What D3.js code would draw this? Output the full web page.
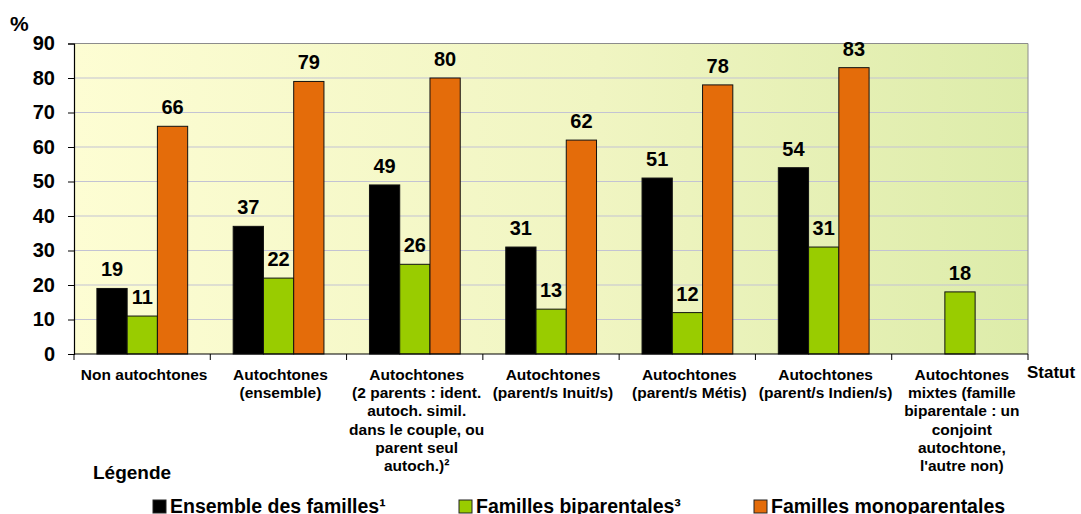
<!DOCTYPE html>
<html>
<head>
<meta charset="utf-8">
<script src="https://cdn.jsdelivr.net/npm/d3@7"></script>
<style>
  body { margin: 0; background: #fff; }
  text { font-family: Arial, "Liberation Sans", sans-serif; font-weight: bold; fill: #000; }
</style>
</head>
<body>
<svg width="1081" height="514"></svg>
<script>
const categories = [
    ['Non autochtones'],
    ['Autochtones', '(ensemble)'],
    ['Autochtones', '(2 parents : ident.', 'autoch. simil.', 'dans le  couple, ou', 'parent seul', 'autoch.)²'],
    ['Autochtones', '(parent/s Inuit/s)'],
    ['Autochtones', '(parent/s Métis)'],
    ['Autochtones', '(parent/s Indien/s)'],
    ['Autochtones', 'mixtes (famille', 'biparentale : un', 'conjoint', 'autochtone,', "l'autre non)"]
]
const seriesNames = ['Ensemble des familles¹', 'Familles biparentales³', 'Familles monoparentales']
const ensemble = [19, 37, 49, 31, 51, 54, null]
const biparentales = [11, 22, 26, 13, 12, 31, 18]
const monoparentales = [66, 79, 80, 62, 78, 83, null]
const yTicks = [0, 10, 20, 30, 40, 50, 60, 70, 80, 90]

const colors = ['#000000', '#99CC00', '#E46C0A']
const seriesValues = [ensemble, biparentales, monoparentales]

const svg = d3.select('svg')

const margin = { left: 74, right: 53, top: 43.5, bottom: 160 }
const x0 = 74, x1 = 1028, yTop = 43.5, yBottom = 354

const catIds = categories.map((c, i) => i)

const xScale = d3.scaleBand()
    .domain(catIds)
    .range([x0, x1])
    .padding(0)

const bw = xScale.bandwidth()
const xInner = d3.scaleBand()
    .domain([0, 1, 2])
    .range([bw * 0.168, bw * 0.834])
    .padding(0)

const yScale = d3.scaleLinear()
    .domain([0, 90])
    .range([yBottom, yTop])

// plot background
const defs = svg.append('defs')
const grad = defs.append('linearGradient')
    .attr('id', 'bg')
    .attr('x1', '0%').attr('y1', '0%')
    .attr('x2', '100%').attr('y2', '0%')
grad.append('stop').attr('offset', '0%').attr('stop-color', '#FDFDD3')
grad.append('stop').attr('offset', '55%').attr('stop-color', '#F0F5C2')
grad.append('stop').attr('offset', '100%').attr('stop-color', '#DDECAA')

svg.append('rect')
    .attr('x', x0).attr('y', yTop)
    .attr('width', x1 - x0).attr('height', yBottom - yTop)
    .attr('fill', 'url(#bg)')

// gridlines
svg.append('g')
    .selectAll('line')
    .data(yTicks.filter(t => t > 0 && t < 90))
    .enter()
    .append('line')
    .attr('x1', x0).attr('x2', x1)
    .attr('y1', d => yScale(d)).attr('y2', d => yScale(d))
    .attr('stroke', '#C3C3D3')
    .attr('stroke-width', 1)

// top and right border
svg.append('path')
    .attr('d', `M${x0},${yTop}H${x1}V${yBottom}`)
    .attr('fill', 'none')
    .attr('stroke', '#8C8C8C')
    .attr('stroke-width', 1)

// bars
const barData = []
categories.forEach((c, i) => {
    seriesValues.forEach((vals, s) => {
        if (vals[i] != null) barData.push({ cat: i, s: s, v: vals[i] })
    })
})

svg.append('g')
    .selectAll('rect')
    .data(barData)
    .enter()
    .append('rect')
    .attr('x', d => xScale(d.cat) + xInner(d.s))
    .attr('y', d => yScale(d.v))
    .attr('width', xInner.bandwidth())
    .attr('height', d => yBottom - yScale(d.v))
    .attr('fill', d => colors[d.s])
    .attr('stroke', '#111')
    .attr('stroke-width', 1)

// value labels
svg.append('g')
    .selectAll('text')
    .data(barData)
    .enter()
    .append('text')
    .attr('x', d => xScale(d.cat) + xInner(d.s) + xInner.bandwidth() / 2)
    .attr('y', d => yScale(d.v) - 12)
    .attr('text-anchor', 'middle')
    .style('font-size', '20px')
    .text(d => d.v)

// y axis
const yAxis = d3.axisLeft(yScale)
    .tickValues(yTicks)
    .tickSize(6)
    .tickPadding(13)

const yG = svg.append('g')
    .attr('transform', `translate(${x0},0)`)
    .call(yAxis)
yG.select('.domain').attr('stroke', '#000').attr('stroke-width', 1.2)
yG.selectAll('.tick line').attr('stroke', '#000')
yG.selectAll('.tick text')
    .style('font-size', '20px')
    .style('font-family', 'Arial, "Liberation Sans", sans-serif')
    .style('font-weight', 'bold')
    .attr('fill', '#000')

// x axis baseline and boundary ticks
svg.append('line')
    .attr('x1', x0).attr('x2', x1)
    .attr('y1', yBottom).attr('y2', yBottom)
    .attr('stroke', '#000')
    .attr('stroke-width', 1.2)

const bounds = catIds.map(i => xScale(i)).concat([x1])
svg.append('g')
    .selectAll('line')
    .data(bounds)
    .enter()
    .append('line')
    .attr('x1', d => d).attr('x2', d => d)
    .attr('y1', yBottom).attr('y2', yBottom + 6)
    .attr('stroke', '#000')

// category labels
const catG = svg.append('g')
categories.forEach((lines, i) => {
    const t = catG.append('text')
        .attr('text-anchor', 'middle')
        .style('font-size', '15.5px')
    lines.forEach((ln, j) => {
        t.append('tspan')
            .attr('x', xScale(i) + bw / 2 + 2)
            .attr('y', 380 + j * 18.2)
            .text(ln)
    })
})

svg.append('text')
    .attr('x', 10)
    .attr('y', 31)
    .style('font-size', '21px')
    .text('%')

svg.append('text')
    .attr('x', 1027)
    .attr('y', 378)
    .style('font-size', '17px')
    .text('Statut')

svg.append('text')
    .attr('x', 93)
    .attr('y', 479)
    .style('font-size', '19px')
    .text('Légende')

// legend
const legendX = [153, 459, 754]
const legend = svg.append('g')
seriesNames.forEach((name, i) => {
    legend.append('rect')
        .attr('x', legendX[i]).attr('y', 500)
        .attr('width', 13).attr('height', 13)
        .attr('fill', colors[i])
        .attr('stroke', '#222')
        .attr('stroke-width', 1)
    legend.append('text')
        .attr('x', legendX[i] + 17)
        .attr('y', 512.5)
        .style('font-size', '19.5px')
        .text(name)
})
</script>
</body>
</html>
